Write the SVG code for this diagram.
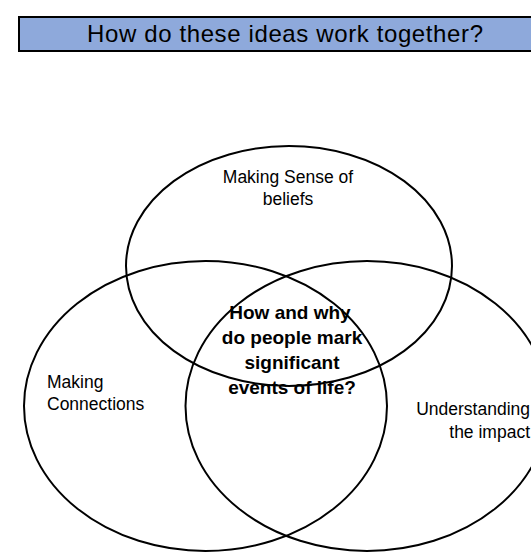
<svg xmlns="http://www.w3.org/2000/svg" width="531" height="556" viewBox="0 0 531 556">
<style>
.c{fill:none;stroke:#000;stroke-width:2}
.t{font-family:"Liberation Sans",Arial,sans-serif;font-size:17.5px;fill:#000}
.b{font-family:"Liberation Sans",Arial,sans-serif;font-size:19px;font-weight:bold;fill:#000;text-anchor:middle}
</style>
<rect width="531" height="556" fill="#fff"/>
<g id="title">
<rect x="19" y="17" width="532" height="34" fill="#8EA9DB" stroke="#000" stroke-width="2"/>
<text x="285" y="42" font-family="Liberation Sans,Arial,sans-serif" font-size="24" text-anchor="middle" textLength="396" lengthAdjust="spacing">How do these ideas work together?</text>
</g>
<g id="beliefs">
<ellipse class="c" cx="289" cy="266" rx="163" ry="120"/>
<text class="t" x="288" y="183" text-anchor="middle">Making Sense of</text>
<text class="t" x="288" y="205" text-anchor="middle">beliefs</text>
</g>
<g id="connections">
<ellipse class="c" cx="205.5" cy="406" rx="181.5" ry="145"/>
<text class="t" x="47" y="388">Making</text>
<text class="t" x="47" y="410">Connections</text>
</g>
<g id="impact">
<ellipse class="c" cx="367" cy="406" rx="181.5" ry="145"/>
<text class="t" x="530" y="415" text-anchor="end">Understanding</text>
<text class="t" x="530" y="438" text-anchor="end">the impact</text>
</g>
<g id="question">
<text class="b" x="290" y="319">How and why</text>
<text class="b" x="292" y="344">do people mark</text>
<text class="b" x="292" y="369">significant</text>
<text class="b" x="292" y="394">events of life?</text>
</g>
<g id="connectors"></g>
</svg>
